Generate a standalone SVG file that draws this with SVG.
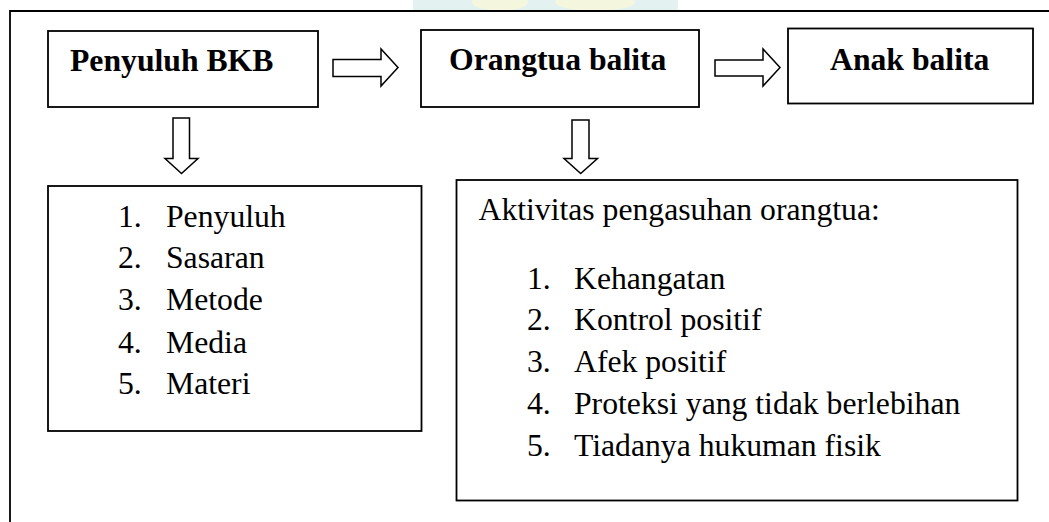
<svg xmlns="http://www.w3.org/2000/svg" width="1049" height="522" viewBox="0 0 1049 522">
<style>
.box{fill:#fff;stroke:#000;stroke-width:1.8}
.arr{fill:#fff;stroke:#000;stroke-width:1.5;stroke-linejoin:miter}
.frame{fill:none;stroke:#000;stroke-width:1.8}
.t{font-family:"Liberation Serif","Times New Roman",serif;font-size:31.7px;fill:#000}
.b{font-weight:bold}
</style>
<rect width="1049" height="522" fill="#fff"/>
<g id="watermark" opacity="0.6">
<rect x="413" y="0" width="265" height="10" fill="#d3e9e9"/>
<ellipse cx="500" cy="2" rx="28" ry="9" fill="#eef3c8"/>
<ellipse cx="595" cy="2" rx="40" ry="9" fill="#eef3c8"/>
</g>
<g id="frame">
<path class="frame" d="M10,522 V11 H1049"/>
</g>
<g id="connectors">
<path class="arr" d="M333,59.5 H381 V49 L398,67.5 L381,86 V76.5 H333 Z"/>
<path class="arr" d="M715,60 H763 V49 L780,67.5 L763,86 V76 H715 Z"/>
<path class="arr" d="M173,118 H189.5 V158.5 H198 L181.5,173.5 L165,158.5 H173 Z"/>
<path class="arr" d="M572,120 H589 V158.5 H597.5 L580.7,173.5 L564,158.5 H572 Z"/>
</g>
<g id="penyuluh-bkb">
<rect class="box" x="48" y="31" width="270" height="76"/>
<text class="t b" x="70" y="71">Penyuluh BKB</text>
</g>
<g id="orangtua-balita">
<rect class="box" x="421" y="30" width="278" height="77"/>
<text class="t b" x="449" y="70">Orangtua balita</text>
</g>
<g id="anak-balita">
<rect class="box" x="788" y="28.5" width="245" height="75"/>
<text class="t b" x="830" y="69.5">Anak balita</text>
</g>
<g id="komponen-penyuluhan">
<rect class="box" x="48" y="186" width="373.5" height="245"/>
<text class="t" x="118" y="226.7">1.</text><text class="t" x="166" y="226.7">Penyuluh</text>
<text class="t" x="118" y="268.3">2.</text><text class="t" x="166" y="268.3">Sasaran</text>
<text class="t" x="118" y="310">3.</text><text class="t" x="166" y="310">Metode</text>
<text class="t" x="118" y="352.5">4.</text><text class="t" x="166" y="352.5">Media</text>
<text class="t" x="118" y="394">5.</text><text class="t" x="166" y="394">Materi</text>
</g>
<g id="aktivitas-pengasuhan">
<rect class="box" x="456.5" y="180" width="561" height="320.5"/>
<text class="t" x="478.5" y="219.5">Aktivitas pengasuhan orangtua:</text>
<text class="t" x="527" y="288.5">1.</text><text class="t" x="574" y="288.5">Kehangatan</text>
<text class="t" x="527" y="330">2.</text><text class="t" x="574" y="330">Kontrol positif</text>
<text class="t" x="527" y="372">3.</text><text class="t" x="574" y="372">Afek positif</text>
<text class="t" x="527" y="414">4.</text><text class="t" x="574" y="414">Proteksi yang tidak berlebihan</text>
<text class="t" x="527" y="456">5.</text><text class="t" x="574" y="456">Tiadanya hukuman fisik</text>
</g>
</svg>
